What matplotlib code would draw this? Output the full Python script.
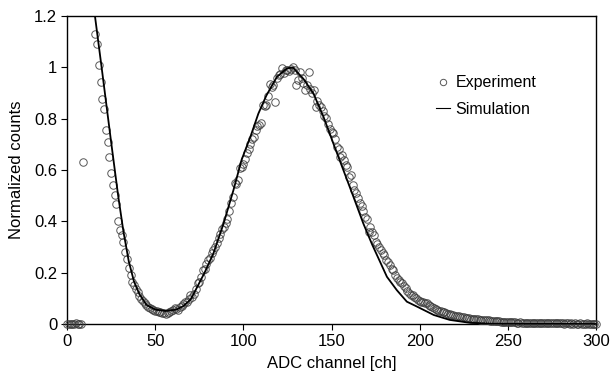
import matplotlib
matplotlib.use('Agg')
import matplotlib.pyplot as plt

plt.rcParams['font.family'] = ['Liberation Sans', 'DejaVu Sans']

# Experiment: channel 0-9, then 16-300 (10-15 lie above the plotted range)
exp_ch = list(range(0, 10)) + list(range(16, 301))
exp_val = [
    0, 0, 0, 0, 0, 0.003, 0, 0, 0, 0.633,
    1.13, 1.09, 1.01, 0.944, 0.877, 0.839, 0.756, 0.708, 0.652, 0.589,
    0.541, 0.503, 0.467, 0.40, 0.366, 0.345, 0.321, 0.28, 0.252, 0.217,
    0.191, 0.165, 0.152, 0.138, 0.126, 0.11, 0.097, 0.088, 0.08, 0.074,
    0.066, 0.061, 0.058, 0.055, 0.051, 0.05, 0.045, 0.048, 0.044, 0.043,
    0.039, 0.042, 0.045, 0.05, 0.055, 0.061, 0.058, 0.055, 0.066, 0.07,
    0.078, 0.084, 0.087, 0.098, 0.113, 0.106, 0.118, 0.135, 0.159, 0.165,
    0.185, 0.21, 0.215, 0.232, 0.25, 0.256, 0.275, 0.29, 0.30, 0.314,
    0.335, 0.352, 0.37, 0.379, 0.395, 0.411, 0.44, 0.47, 0.496, 0.548,
    0.545, 0.561, 0.607, 0.61, 0.625, 0.645, 0.665, 0.684, 0.70, 0.723,
    0.73, 0.757, 0.77, 0.775, 0.782, 0.853, 0.85, 0.853, 0.89, 0.937,
    0.924, 0.93, 0.866, 0.96, 0.97, 0.975, 0.996, 0.98, 0.99, 0.99,
    0.985, 0.995, 1.0, 0.99, 0.931, 0.95, 0.983, 0.96, 0.94, 0.912,
    0.93, 0.983, 0.915, 0.9, 0.912, 0.847, 0.87, 0.855, 0.847, 0.83,
    0.81, 0.801, 0.78, 0.76, 0.749, 0.743, 0.72, 0.691, 0.684, 0.652,
    0.66, 0.64, 0.619, 0.613, 0.574, 0.58, 0.541, 0.522, 0.509, 0.49,
    0.47, 0.46, 0.44, 0.418, 0.41, 0.36, 0.38, 0.36, 0.345, 0.321,
    0.31, 0.30, 0.29, 0.275, 0.27, 0.25, 0.24, 0.23, 0.215, 0.21,
    0.19, 0.18, 0.172, 0.165, 0.159, 0.15, 0.14, 0.13, 0.12, 0.113,
    0.113, 0.105, 0.10, 0.095, 0.09, 0.087, 0.085, 0.08, 0.08, 0.075,
    0.07, 0.066, 0.062, 0.058, 0.055, 0.052, 0.05, 0.048, 0.045, 0.043,
    0.04, 0.038, 0.036, 0.035, 0.033, 0.031, 0.03, 0.029, 0.028, 0.027,
    0.025, 0.024, 0.022, 0.021, 0.02, 0.02, 0.019, 0.018, 0.017, 0.016,
    0.016, 0.015, 0.016, 0.014, 0.013, 0.012, 0.012, 0.011, 0.01, 0.01,
    0.009, 0.009, 0.008, 0.008, 0.007, 0.007, 0.006, 0.006, 0.006, 0.005,
    0.005, 0.006, 0.004, 0.005, 0.004, 0.004, 0.005, 0.003, 0.004, 0.003,
    0.004, 0.003, 0.003, 0.004, 0.002, 0.003, 0.003, 0.002, 0.003, 0.002,
    0.002, 0.003, 0.002, 0.002, 0.003, 0.002, 0.001, 0.002, 0.002, 0.001,
    0.002, 0.001, 0.002, 0.001, 0.001, 0.002, 0.001, 0.001, 0.001, 0.002,
    0.001, 0.001, 0.0, 0.001, 0.001,
]

# Simulation curve
sim_ch = [15, 20, 25, 29, 32, 35, 38, 41, 45, 50, 56, 62, 66, 70, 72, 75, 78,
          83, 88.7, 94.3, 99, 104, 108.5, 113, 119, 124.6, 128, 134, 139.7,
          145.4, 151, 156.7, 162.4, 168, 173, 177, 181.4, 187, 192.7, 198.4,
          208, 217, 228, 240, 300]
sim_val = [1.245, 0.98, 0.71, 0.50, 0.36, 0.245, 0.165, 0.117, 0.075, 0.056,
           0.051, 0.056, 0.07, 0.095, 0.12, 0.16, 0.20, 0.275, 0.39, 0.52,
           0.64, 0.73, 0.82, 0.89, 0.963, 0.996, 1.0, 0.956, 0.899, 0.808,
           0.704, 0.60, 0.496, 0.392, 0.31, 0.25, 0.184, 0.132, 0.087, 0.068,
           0.035, 0.016, 0.005, 0.001, 0.0]

xticks = [0, 50, 100, 150, 200, 250, 300]
yticks = [0, 0.2, 0.4, 0.6, 0.8, 1.0, 1.2]
ytick_labels = ['0', '0.2', '0.4', '0.6', '0.8', '1', '1.2']

fig = plt.figure(figsize=(6.12, 3.75), dpi=100)
ax = fig.add_axes([0.1095, 0.136, 0.8645, 0.821])

ax.plot(exp_ch, exp_val, linestyle='none', marker='o', markersize=5.4,
        markerfacecolor='none', markeredgecolor='#3a3a3a', markeredgewidth=0.7,
        alpha=0.85, clip_on=False, label='Experiment', zorder=3)
ax.plot(sim_ch, sim_val, color='black', linewidth=1.3, label='Simulation', zorder=4)

ax.set_xlim(0, 300)
ax.set_ylim(0, 1.2)
ax.set_xticks(xticks)
ax.set_yticks(yticks)
ax.set_yticklabels(ytick_labels)
ax.tick_params(direction='out', length=4, width=0.8, labelsize=12, colors='black', pad=3)
for s in ax.spines.values():
    s.set_linewidth(1.0)

ax.set_xlabel('ADC channel [ch]', fontsize=12, labelpad=5)
ax.set_ylabel('Normalized counts', fontsize=12, labelpad=7)

leg = ax.legend(loc='upper left', bbox_to_anchor=(0.698, 0.808), frameon=False,
                fontsize=11.5, handlelength=0.85, handletextpad=0.35, labelspacing=0.72,
                borderpad=0, borderaxespad=0, markerscale=0.85)
leg.legend_handles[1].set_linewidth(0.8)

fig.savefig('out.png', dpi=100)
